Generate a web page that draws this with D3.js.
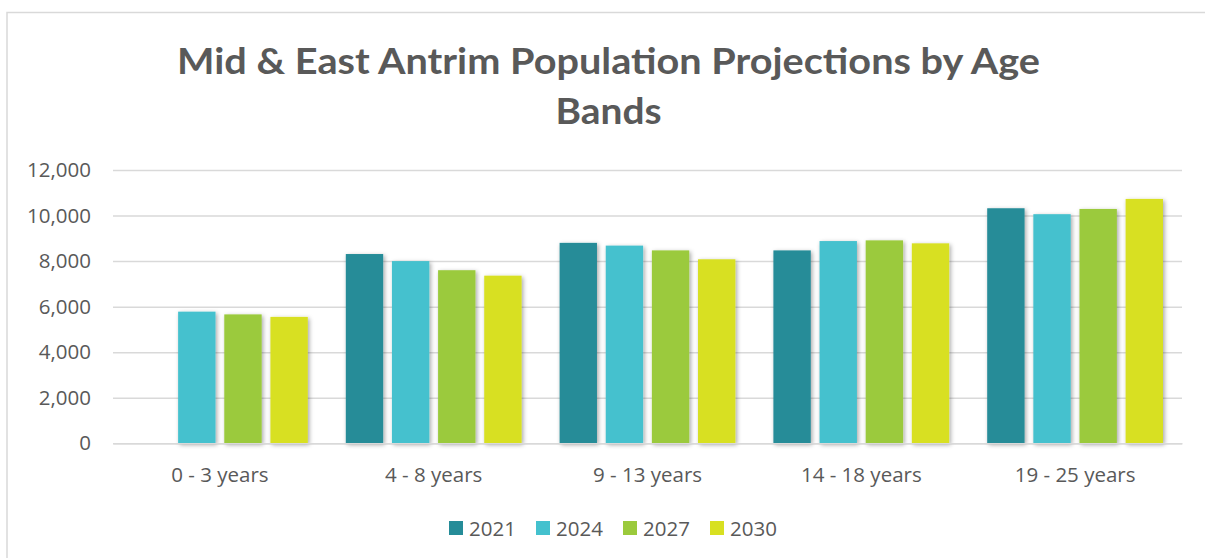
<!DOCTYPE html>
<html>
<head>
<meta charset="utf-8">
<script src="https://cdn.jsdelivr.net/npm/d3@7"></script>
<style>
  html, body { margin: 0; padding: 0; background: #fff; }
  svg { display: block; }
</style>
</head>
<body>
<svg id="chart" width="1205" height="558"></svg>
<script>
const categories = ["0 - 3 years", "4 - 8 years", "9 - 13 years", "14 - 18 years", "19 - 25 years"];
const seriesNames = ["2021", "2024", "2027", "2030"];
const values2021 = [null, 8310, 8800, 8470, 10320];
const values2024 = [5780, 8000, 8680, 8880, 10060];
const values2027 = [5660, 7600, 8470, 8910, 10290];
const values2030 = [5550, 7360, 8080, 8780, 10730];
const seriesColors = ["#258C98", "#44C1CE", "#9BCA3C", "#D8E021"];
const yTicks = [0, 2000, 4000, 6000, 8000, 10000, 12000];
const titleLines = ["Mid & East Antrim Population Projections by Age", "Bands"];

const seriesValues = [values2021, values2024, values2027, values2030];
const data = categories.map((c, i) => ({
  category: c,
  values: seriesNames.map((s, j) => ({ series: s, value: seriesValues[j][i], color: seriesColors[j] }))
}));

const svg = d3.select("#chart");
const textColor = "#595959";
const font = "'Open Sans', 'Liberation Sans', sans-serif";
const fs = 20.5;

// drop shadow filter
const defs = svg.append("defs");
const f = defs.append("filter").attr("id", "shadow")
  .attr("x", "-30%").attr("y", "-10%").attr("width", "160%").attr("height", "120%");
f.append("feDropShadow").attr("dx", 1.5).attr("dy", 1.5).attr("stdDeviation", 2)
  .attr("flood-color", "#000").attr("flood-opacity", 0.35);

// chart border
svg.append("rect").attr("x", 7).attr("y", 12.5).attr("width", 1210).attr("height", 560)
  .attr("fill", "#fff").attr("stroke", "#d9d9d9").attr("stroke-width", 1.5);

// title
const titleY = [74, 124];
const titleW = [863, 106];
titleLines.forEach((t, i) => {
  svg.append("text").attr("x", 608.5).attr("y", titleY[i])
    .attr("text-anchor", "middle")
    .attr("font-family", "Lato, 'Open Sans', sans-serif")
    .attr("font-weight", "bold").attr("font-size", 37)
    .attr("fill", textColor)
    .attr("textLength", titleW[i]).attr("lengthAdjust", "spacingAndGlyphs")
    .text(t);
});

const plot = { left: 113, right: 1182, top: 170, bottom: 443.3 };

const x0 = d3.scaleBand().domain(categories).range([plot.left, plot.right]).padding(0);
const groupPad = 19;
const x1 = d3.scaleBand().domain(seriesNames)
  .range([groupPad, x0.bandwidth() - groupPad]).paddingInner(0.19).paddingOuter(0);
const y = d3.scaleLinear().domain([0, 12000]).range([plot.bottom, plot.top]);

// gridlines
const yAxis = d3.axisLeft(y).tickValues(yTicks).tickSize(-(plot.right - plot.left))
  .tickFormat(d3.format(","));
const gy = svg.append("g").attr("transform", `translate(${plot.left},0)`).call(yAxis);
gy.select(".domain").remove();
gy.selectAll(".tick line").attr("stroke", "#d9d9d9").attr("stroke-width", 1.5);
gy.selectAll(".tick text").attr("x", -22).attr("fill", textColor)
  .attr("font-family", font).attr("font-size", fs);

// bars
const groups = svg.append("g").selectAll("g").data(data).join("g")
  .attr("transform", d => `translate(${x0(d.category)},0)`);
groups.selectAll("rect").data(d => d.values.filter(v => v.value != null)).join("rect")
  .attr("x", d => x1(d.series))
  .attr("width", x1.bandwidth())
  .attr("y", d => y(d.value))
  .attr("height", d => y(0) - y(d.value))
  .attr("fill", d => d.color)
  .attr("filter", "url(#shadow)");

// x axis
const xAxis = d3.axisBottom(x0).tickSize(0).tickPadding(0);
const gx = svg.append("g").attr("transform", `translate(0,${plot.bottom})`).call(xAxis);
gx.select(".domain").attr("stroke", "#d9d9d9").attr("stroke-width", 1.5);
gx.selectAll(".tick text").attr("dy", null).attr("y", 38.5).attr("fill", textColor)
  .attr("font-family", font).attr("font-size", fs);

// legend
const legendX = d3.scalePoint().domain(seriesNames).range([449, 710]);
const lg = svg.append("g").selectAll("g").data(seriesNames).join("g")
  .attr("transform", d => `translate(${legendX(d)},521)`);
lg.append("rect").attr("width", 14).attr("height", 14)
  .attr("fill", (d, i) => seriesColors[i]);
lg.append("text").attr("x", 20).attr("y", 14.5).attr("fill", textColor)
  .attr("font-family", font).attr("font-size", fs).text(d => d);
</script>
</body>
</html>
